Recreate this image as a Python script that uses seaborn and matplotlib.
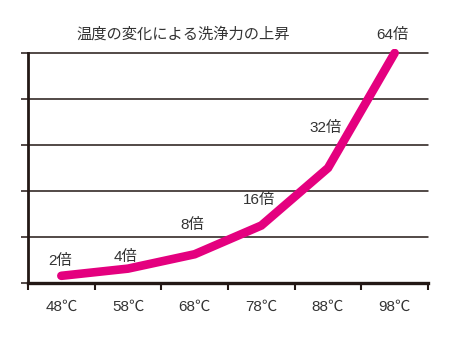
import numpy as np
import matplotlib
matplotlib.use("Agg")
import matplotlib.pyplot as plt
from matplotlib.ticker import FixedLocator, NullFormatter
import seaborn as sns

# Cleaning power relative to baseline at each water temperature
temperatures = ["48℃", "58℃", "68℃", "78℃", "88℃", "98℃"]
multipliers = [2, 4, 8, 16, 32, 64]
value_labels = ["2倍", "4倍", "8倍", "16倍", "32倍", "64倍"]
title = "温度の変化による洗浄力の上昇"

# label offsets in points (dx, dy) from each point
label_offsets = [(-1, 11), (-2, 8.5), (-2, 21), (-2, 18), (-1.5, 29), (-2, 13)]

sns.set_theme(style="white")
plt.rcParams["font.family"] = ["Liberation Sans", "Noto Sans CJK JP", "DejaVu Sans"]

ink = "#231815"
text_col = "#333333"
magenta = "#E4007F"

fig = plt.figure(figsize=(4.5, 3.38), dpi=100)
W, H = 450, 338
ymax = 65
px_per_unit = (283 - 53) / 64
top_px = 283 - ymax * px_per_unit
ax = fig.add_axes([28 / W, 1 - 283 / H, 400 / W, (283 - top_px) / H])

x_pos = np.arange(len(temperatures))
sns.lineplot(x=x_pos, y=multipliers, ax=ax, color=magenta, linewidth=6.2,
             solid_capstyle="round", solid_joinstyle="miter", sort=False,
             zorder=5)

ax.set_xlim(-0.5, len(temperatures) - 0.5)
ax.set_ylim(0, ymax)

# horizontal grid lines
yt = np.linspace(0, 64, 6)
ax.set_yticks(yt)
ax.set_yticklabels([])
for y in yt[1:]:
    ax.axhline(y, color=ink, linewidth=1.1, zorder=1, clip_on=False)
ax.tick_params(axis="y", which="major", direction="out", length=5,
               width=1.1, color=ink, left=True, pad=0)

# category labels at centres, tick marks at boundaries
ax.set_xticks(x_pos)
ax.set_xticklabels(temperatures, fontsize=11, color=text_col)
ax.tick_params(axis="x", which="major", length=0, pad=12)
ax.xaxis.set_minor_locator(FixedLocator(np.arange(-0.5, len(temperatures), 1.0)))
ax.xaxis.set_minor_formatter(NullFormatter())
ax.tick_params(axis="x", which="minor", direction="out", length=5,
               width=1.5, color=ink, bottom=True)

for side in ["top", "right"]:
    ax.spines[side].set_visible(False)
ax.spines["left"].set_bounds(0, 64)
ax.spines["left"].set_linewidth(2.0)
ax.spines["left"].set_color(ink)
ax.spines["bottom"].set_linewidth(2.4)
ax.spines["bottom"].set_color(ink)
ax.set_xlabel("")
ax.set_ylabel("")

for xi, v, lab, (dx, dy) in zip(x_pos, multipliers, value_labels, label_offsets):
    ax.annotate(lab, (xi, v), xytext=(dx, dy), textcoords="offset points",
                ha="center", va="center", fontsize=11, color=text_col,
                annotation_clip=False, zorder=6)

fig.text(183.5 / W, 1 - 34 / H, title, ha="center", va="center",
         fontsize=11, color=text_col)

fig.savefig("out.png", dpi=100, facecolor="white")
